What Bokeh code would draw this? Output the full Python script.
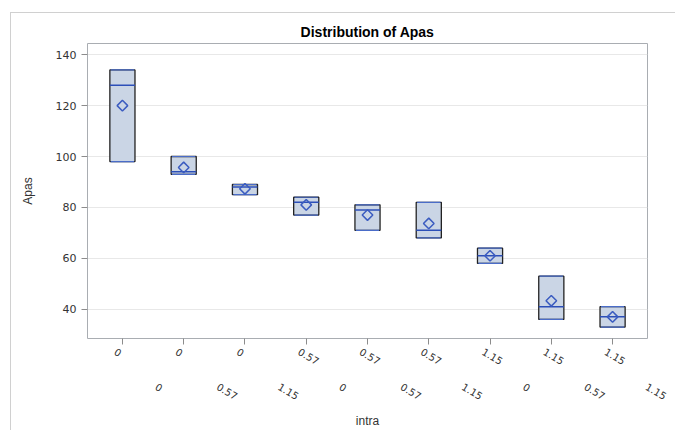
import math
from bokeh.plotting import figure
from bokeh.models import Range1d, FixedTicker, ColumnDataSource, LinearAxis
from bokeh.embed import file_html
from bokeh.resources import INLINE

# ---- data ----
outer_labels = ["0", "0", "0", "0.57", "0.57", "0.57", "1.15", "1.15", "1.15"]
inner_labels = ["0", "0.57", "1.15", "0", "0.57", "1.15", "0", "0.57", "1.15"]
box_min = [98, 93, 85, 77, 71, 68, 58, 36, 33]
box_max = [134, 100, 89, 84, 81, 82, 64, 53, 41]
box_median = [128, 94, 88, 82, 79, 71, 61, 41, 37]
box_mean = [120, 95.7, 87.3, 81, 77, 73.7, 61, 43.3, 37]
y_ticks = [40, 60, 80, 100, 120, 140]
title_text = "Distribution of Apas"
x_title = "intra"
y_title = "Apas"

FONT = "Liberation Sans"
VFONT = "DejaVu Sans"
TXT = "#333333"
pos = list(range(len(outer_labels)))
half = 0.205
cap_half = 0.19
pad = 0.57
x_start, x_end = -pad, len(pos) - 1 + pad
y0, y1 = 28.5, 144.4

# label-row shifts in category units (layout only)
top_shift = -0.115
inner_shift = 0.555
label_angle = -math.radians(31)

src = ColumnDataSource(dict(
    x=pos,
    left=[i - half for i in pos],
    right=[i + half for i in pos],
    cl=[i - cap_half for i in pos],
    cr=[i + cap_half for i in pos],
    lo=box_min, hi=box_max, med=box_median, mean=box_mean,
))

p = figure(width=665, height=418, output_backend="svg", toolbar_location=None,
           x_range=Range1d(x_start, x_end), y_range=Range1d(y0, y1),
           min_border_left=76, min_border_right=29, min_border_top=30,
           min_border_bottom=93)
p.margin = (12, 0, 0, 10)
p.styles = {"border-left": "1px solid #D0D0D0", "border-top": "1px solid #D0D0D0"}
p.background_fill_color = "white"
p.border_fill_color = "white"
p.outline_line_color = "#A9ADB2"
p.outline_line_width = 1
p.xgrid.visible = False
p.ygrid.grid_line_color = "#E8E8E8"
p.ygrid.ticker = FixedTicker(ticks=y_ticks)

p.title.text = title_text
p.title.align = "center"
p.title.text_font = FONT
p.title.text_font_size = "14px"
p.title.text_font_style = "bold"
p.title.text_color = "#000000"
p.title.standoff = 8

p.yaxis.ticker = FixedTicker(ticks=y_ticks)
p.yaxis.axis_line_color = None
p.yaxis.major_tick_line_color = "#8C8C8C"
p.yaxis.major_tick_in = 0
p.yaxis.major_tick_out = 6
p.yaxis.minor_tick_line_color = None
p.yaxis.major_label_text_font = VFONT
p.yaxis.major_label_text_font_size = "11px"
p.yaxis.major_label_text_color = TXT
p.yaxis.major_label_standoff = 5
p.yaxis.axis_label = y_title
p.yaxis.axis_label_text_font = FONT
p.yaxis.axis_label_text_font_size = "12px"
p.yaxis.axis_label_text_font_style = "normal"
p.yaxis.axis_label_text_color = TXT
p.yaxis.axis_label_standoff = 18

# tick marks only
p.xaxis.ticker = FixedTicker(ticks=pos)
p.xaxis.axis_line_color = None
p.xaxis.major_tick_line_color = "#8C8C8C"
p.xaxis.major_tick_in = 0
p.xaxis.major_tick_out = 6
p.xaxis.minor_tick_line_color = None
p.xaxis.major_label_overrides = {i: "" for i in pos}
p.xaxis.major_label_text_font_size = "0px"
p.xaxis.major_label_standoff = 0

# two rows of category labels on shifted ranges
p.extra_x_ranges = {
    "top": Range1d(x_start - top_shift, x_end - top_shift),
    "inner": Range1d(x_start - inner_shift, x_end - inner_shift),
}
ax_top = LinearAxis(x_range_name="top", ticker=FixedTicker(ticks=pos),
                    major_label_overrides={i: outer_labels[i] for i in pos})
ax_in = LinearAxis(x_range_name="inner", ticker=FixedTicker(ticks=pos),
                   major_label_overrides={i: inner_labels[i] for i in pos})
ax_title = LinearAxis(ticker=FixedTicker(ticks=[]), axis_label=x_title)
for ax in (ax_top, ax_in, ax_title):
    ax.axis_line_color = None
    ax.major_tick_line_color = None
    ax.minor_tick_line_color = None
    ax.major_tick_in = 0
    ax.major_tick_out = 0
    ax.major_label_orientation = label_angle
    ax.major_label_text_font = VFONT
    ax.major_label_text_font_size = "10px"
    ax.major_label_text_color = TXT
    ax.axis_label_text_font = FONT
    ax.axis_label_text_font_size = "12px"
    ax.axis_label_text_font_style = "normal"
    ax.axis_label_text_color = TXT
ax_top.major_label_standoff = 6
ax_in.major_label_standoff = 14
ax_title.major_label_standoff = 0
ax_title.axis_label_standoff = 7
p.add_layout(ax_top, "below")
p.add_layout(ax_in, "below")
p.add_layout(ax_title, "below")

# boxes
p.quad(left="left", right="right", bottom="lo", top="hi", source=src,
       fill_color="#CAD5E5", line_color="#222222", line_width=1.3)
# zero-length whisker caps on the box ends
p.segment(x0="cl", x1="cr", y0="lo", y1="lo", source=src,
          line_color="#4A6CC8", line_width=1.2)
p.segment(x0="cl", x1="cr", y0="hi", y1="hi", source=src,
          line_color="#4A6CC8", line_width=1.2)
# medians
p.segment(x0="left", x1="right", y0="med", y1="med", source=src,
          line_color="#2C4FB8", line_width=1.5)
# means
p.scatter(x="x", y="mean", source=src, marker="square", angle=math.pi / 4,
          size=7.5, fill_color=None, line_color="#3B5CC0", line_width=1.5)

open("out.html", "w").write(file_html(p, INLINE))
